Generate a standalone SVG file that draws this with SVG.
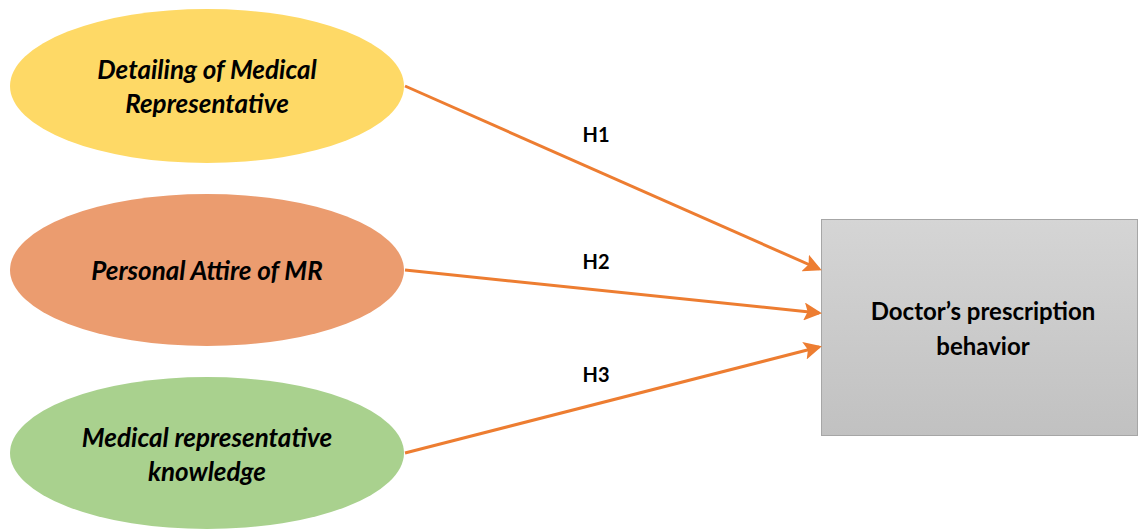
<svg xmlns="http://www.w3.org/2000/svg" width="1139" height="530" viewBox="0 0 1139 530">
<style>
.lbl{font-family:Lato,"Open Sans","Liberation Sans",sans-serif;font-weight:bold;font-style:italic;font-size:26px;fill:#000;text-anchor:middle}
.h{font-family:Lato,"Open Sans","Liberation Sans",sans-serif;font-weight:bold;font-size:20px;fill:#000;text-anchor:middle}
.box{font-family:Lato,"Open Sans","Liberation Sans",sans-serif;font-weight:bold;font-size:24px;fill:#000;text-anchor:middle}
.conn{stroke:#ED7D31;stroke-width:3;fill:none;marker-end:url(#ah)}
</style>
<defs>
<marker id="ah" markerWidth="6" markerHeight="6" refX="5" refY="3" orient="auto" markerUnits="strokeWidth">
<path d="M0,0 L6,3 L0,6 L1.2,3 Z" fill="#ED7D31"/>
</marker>
<linearGradient id="g" x1="0" y1="0" x2="0" y2="1">
<stop offset="0" stop-color="#d5d5d5"/>
<stop offset="1" stop-color="#c1c1c1"/>
</linearGradient>
</defs>
<rect width="1139" height="530" fill="#fff"/>
<g id="n1">
<ellipse cx="207" cy="86" rx="197" ry="77" fill="#FED966"/>
<text class="lbl" x="207" y="79">Detailing of Medical</text>
<text class="lbl" x="207" y="113">Representative</text>
</g>
<g id="n2">
<ellipse cx="207" cy="270" rx="197" ry="76" fill="#EB9C6F"/>
<text class="lbl" x="207" y="280">Personal Attire of MR</text>
</g>
<g id="n3">
<ellipse cx="207" cy="453" rx="197" ry="76" fill="#A9D18E"/>
<text class="lbl" x="207" y="447">Medical representative</text>
<text class="lbl" x="207" y="481">knowledge</text>
</g>
<g id="n4">
<rect x="821.5" y="219.5" width="316" height="216" fill="url(#g)" stroke="#a6a6a6" stroke-width="1"/>
<text class="box" x="983" y="320">Doctor’s prescription</text>
<text class="box" x="983" y="355">behavior</text>
</g>
<g id="connectors">
<line class="conn" x1="405" y1="86" x2="819" y2="269"/>
<line class="conn" x1="405" y1="270" x2="819" y2="313"/>
<line class="conn" x1="405" y1="453" x2="819" y2="347"/>
<text class="h" x="596" y="142">H1</text>
<text class="h" x="596" y="269">H2</text>
<text class="h" x="596" y="382">H3</text>
</g>
</svg>
